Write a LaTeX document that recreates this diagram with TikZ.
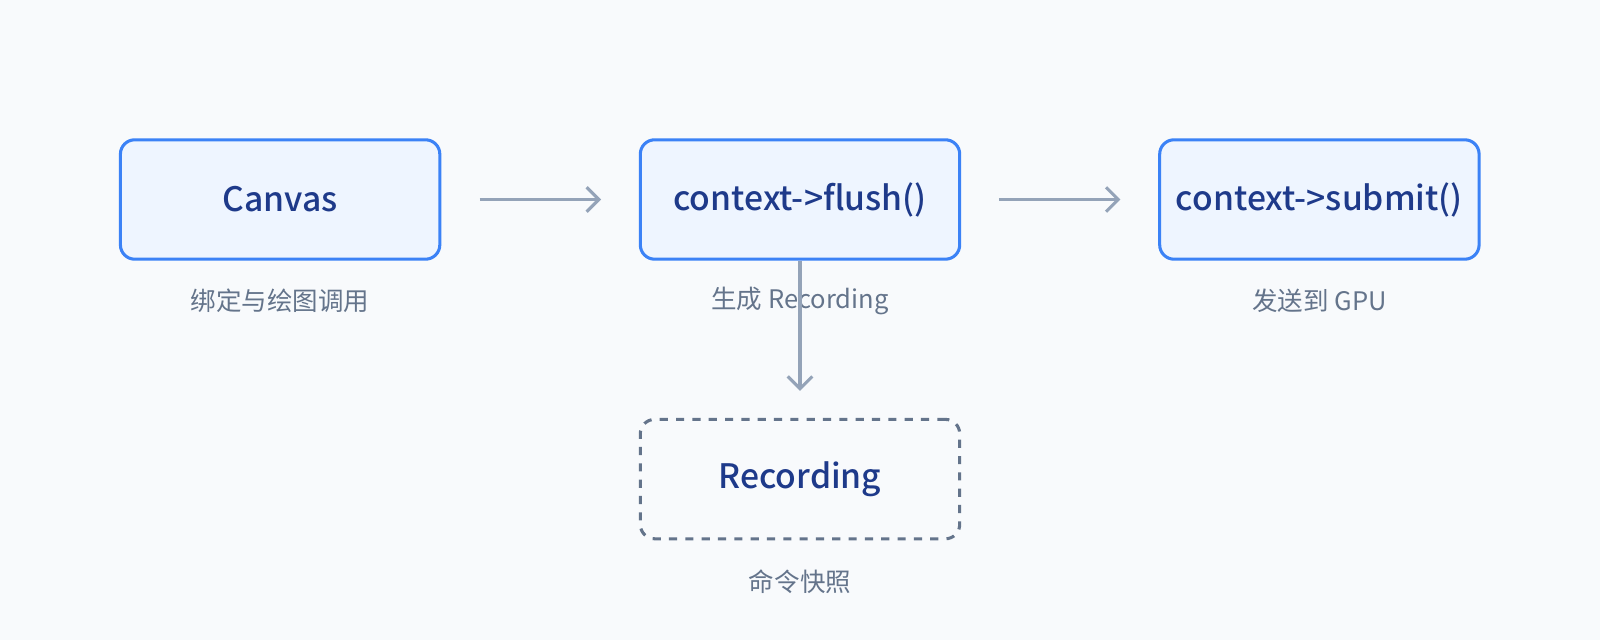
\documentclass[tikz,border=0pt]{standalone}
\usepackage{fontspec}
\setmainfont{Noto Sans}
\newfontfamily\cjk{Noto Sans CJK SC}
\newfontfamily\cjkm{Noto Sans CJK SC Medium}
\usetikzlibrary{arrows.meta}
\definecolor{bg}{HTML}{F8FAFC}
\definecolor{boxfill}{HTML}{EEF5FF}
\definecolor{boxline}{HTML}{3B82F6}
\definecolor{boxtext}{HTML}{1E3A8A}
\definecolor{arr}{HTML}{94A3B8}
\definecolor{dash}{HTML}{64748B}
\definecolor{lbl}{HTML}{64748B}
\begin{document}
\begin{tikzpicture}[x=0.5pt,y=-0.5pt,
  box/.style={draw=boxline,line width=1.5pt,fill=boxfill,rounded corners=7pt,minimum width=156.5pt,minimum height=58.5pt,text=boxtext,font=\cjkm\fontsize{16.5}{20}\selectfont,inner sep=0pt},
  dbox/.style={box,draw=dash,fill=none,dash pattern=on 4pt off 4pt},
  lab/.style={text=lbl,font=\cjk\fontsize{12.5}{15}\selectfont},
  con/.style={draw=arr,line width=1.5pt,-{Straight Barb[length=6pt,width=12pt]}}]
\fill[bg] (0,0) rectangle (1568,627);
\useasboundingbox (0,0) rectangle (1568,627);
\node[box] (canvas) at (274.5,195.5) {Canvas};
\node[box] (flush) at (784,195.5) {context->flush()};
\node[box] (submit) at (1293,195.5) {context->submit()};
\node[dbox] (rec) at (784,469.5) {Recording};
\node[lab] (l1) at (274.5,295) {绑定与绘图调用};
\node[lab] (l2) at (784,295) {生成 Recording};
\node[lab] (l3) at (1293,295) {发送到 GPU};
\node[lab] (l4) at (784,570) {命令快照};
\coordinate (a1s) at (470,195.5); \coordinate (a1e) at (589,195.5);
\coordinate (a2s) at (979,195.5); \coordinate (a2e) at (1098,195.5);
\coordinate (a3e) at (784,383);
\draw[con] (a1s) -- (a1e);
\draw[con] (a2s) -- (a2e);
\draw[con] (flush.south) -- (a3e);
\end{tikzpicture}
\end{document}
